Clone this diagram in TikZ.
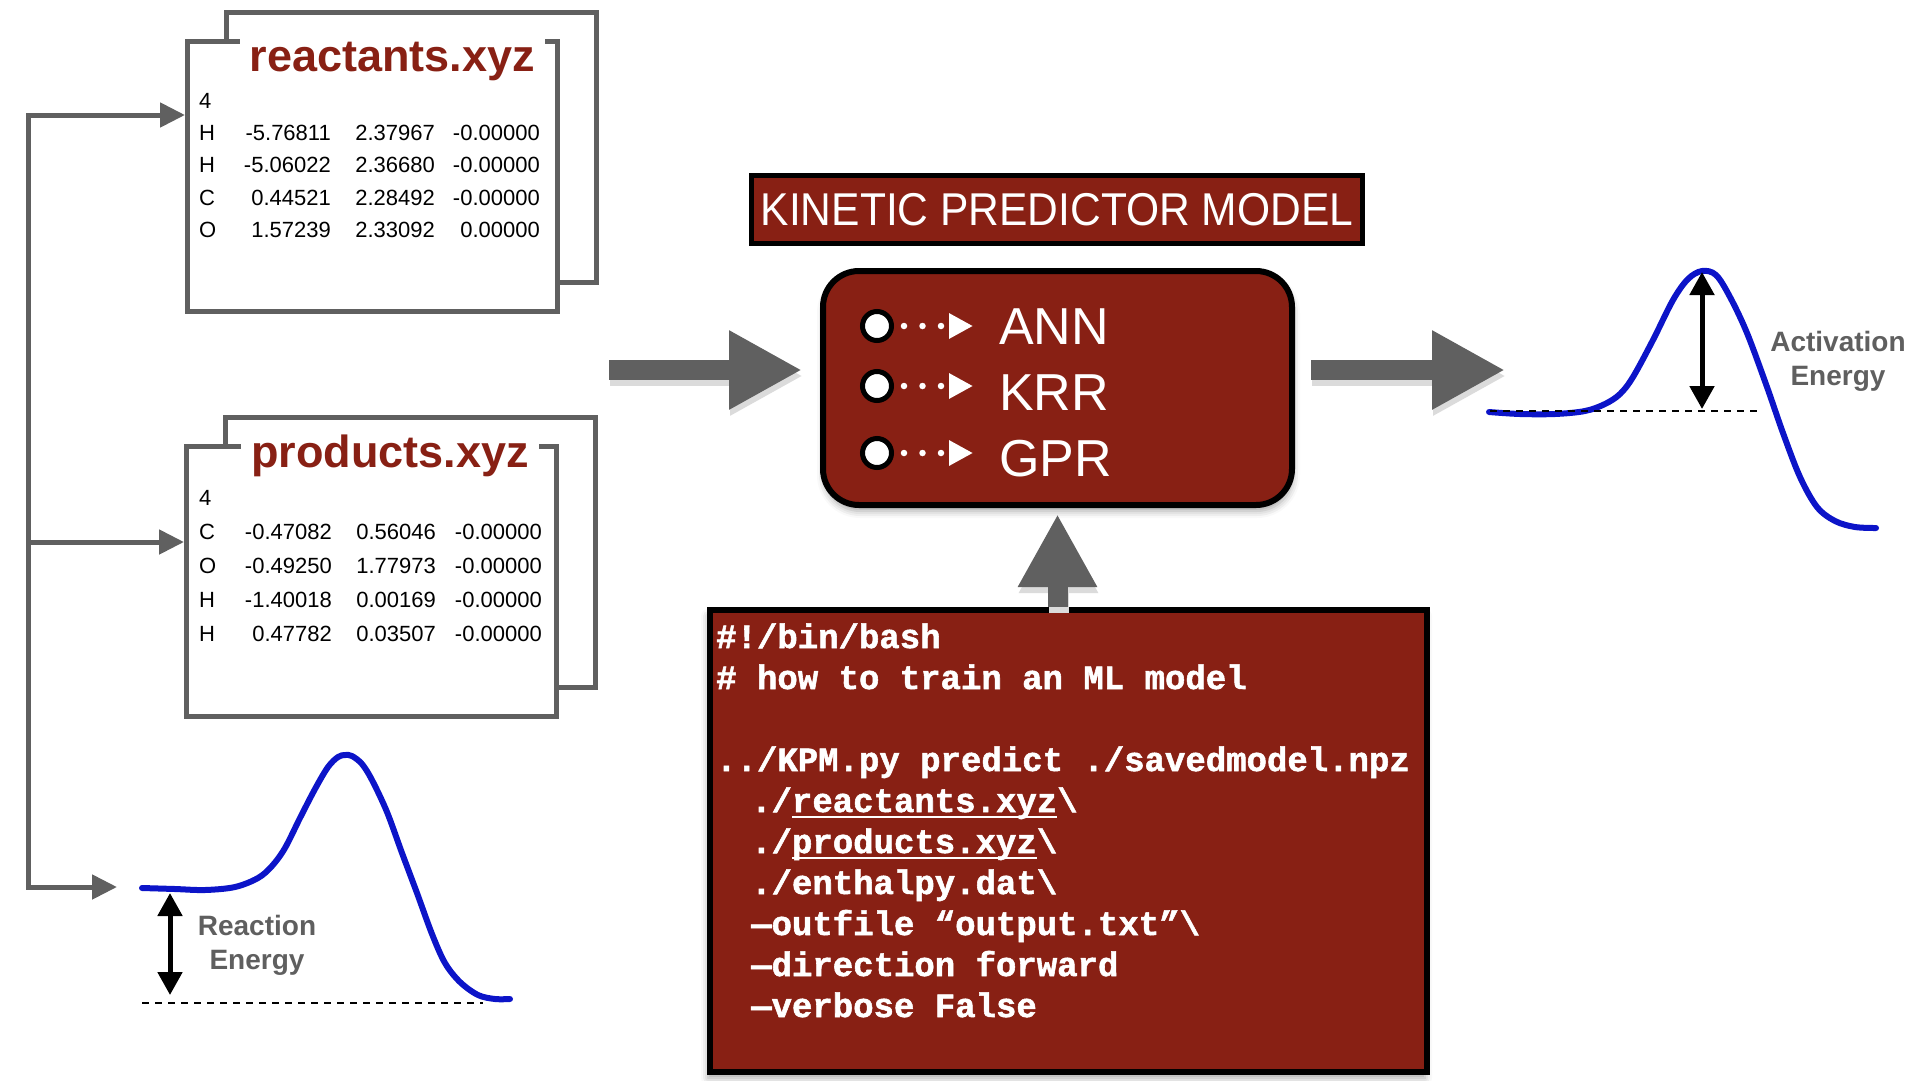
\documentclass[tikz,border=0pt]{standalone}
\usepackage{graphicx}
\usepackage{fontspec}
\setmainfont{Liberation Sans}
\newfontfamily\codefont{Liberation Mono}[BoldFeatures={FakeBold=1.6}]
\usetikzlibrary{arrows.meta,shadows.blur}
\definecolor{kred}{RGB}{136,32,20}
\definecolor{kgray}{RGB}{96,96,96}
\definecolor{kblue}{RGB}{12,20,200}
\definecolor{lgray}{RGB}{95,95,95}
\newsavebox\ulbox
\newcommand{\myul}[1]{\sbox\ulbox{#1}\rlap{\rule[-6pt]{\wd\ulbox}{2pt}}\usebox\ulbox}
\begin{document}
\begin{tikzpicture}[x=1pt,y=-1pt,line join=miter,
  filebox/.style={draw=kgray, line width=5pt, fill=white, minimum width=370pt, minimum height=270pt, inner sep=0pt},
  filetitle/.style={font=\fontsize{45}{54}\selectfont\bfseries, text=kred, fill=white, inner xsep=10pt, inner ysep=6pt, anchor=base},
  xyzl/.style={font=\fontsize{22}{26}\selectfont, anchor=base west, inner sep=0pt},
  xyzr/.style={font=\fontsize{22}{26}\selectfont, anchor=base east, inner sep=0pt},
  conn/.style={draw=kgray, line width=5pt},
  smallhead/.tip={Triangle[length=25pt,width=24pt]},
  bigarrow/.style={draw=kgray, line width=20pt, -{Triangle[length=73pt,width=74pt]}},
  bigshadow/.style={draw=black!14, line width=20pt, -{Triangle[length=73pt,width=74pt]}, transform canvas={xshift=1pt,yshift=-6pt}},
  curve/.style={draw=kblue, line width=6pt, line cap=round},
  levelline/.style={draw=black, line width=2.5pt, dash pattern=on 7pt off 6pt},
  energyarrow/.style={draw=black, line width=5pt, {Triangle[length=23pt,width=24pt]}-{Triangle[length=23pt,width=24pt]}},
  elabel/.style={font=\fontsize{28}{34}\selectfont\bfseries, text=lgray, align=center, inner sep=0pt},
  titlebox/.style={draw=black, line width=5pt, fill=kred, text=white, minimum width=611pt, minimum height=68pt, inner sep=0pt, font=\fontsize{46}{50}\selectfont},
  kpmbox/.style={draw=black, line width=6pt, fill=kred, rounded corners=36pt, minimum width=469pt, minimum height=234pt, inner sep=0pt,
    blur shadow={shadow xshift=1pt, shadow yshift=-6pt, shadow blur radius=7pt, shadow opacity=35}},
  codebox/.style={draw=black, line width=6pt, fill=kred, minimum width=717pt, minimum height=462pt, inner sep=0pt,
    blur shadow={shadow xshift=-2pt, shadow yshift=-6pt, shadow blur radius=7pt, shadow opacity=35}},
  mcircle/.style={circle, draw=black, line width=5pt, fill=white, minimum size=29pt, inner sep=0pt},
  mlabel/.style={font=\fontsize{52}{60}\selectfont, text=white, anchor=base west, inner sep=0pt},
  dotarrow/.style={draw=white, line width=6.5pt, line cap=round, dash pattern=on 0pt off 18.5pt, -{Triangle[length=24pt,width=24pt]}},
  codeline/.style={font=\fontsize{34}{41}\selectfont\codefont\bfseries, text=white, anchor=base west, inner sep=0pt}
]
\useasboundingbox (0,0) rectangle (1920,1080);

% ---------- reactants file ----------
\node[filebox] (reacback) at (411.5,147) {};
\node[filebox] (reac) at (372.5,176) {};
\node[filetitle] (reactitle) at (392.5,71) {reactants.xyz};
\node[xyzl] (r0) at (199,108) {4};
\node[xyzl] (r1a) at (199,140) {H};
\node[xyzr] (r1b) at (331,140) {-5.76811};
\node[xyzr] (r1c) at (435,140) {2.37967};
\node[xyzr] (r1d) at (540,140) {-0.00000};
\node[xyzl] (r2a) at (199,172) {H};
\node[xyzr] (r2b) at (331,172) {-5.06022};
\node[xyzr] (r2c) at (435,172) {2.36680};
\node[xyzr] (r2d) at (540,172) {-0.00000};
\node[xyzl] (r3a) at (199,205) {C};
\node[xyzr] (r3b) at (331,205) {0.44521};
\node[xyzr] (r3c) at (435,205) {2.28492};
\node[xyzr] (r3d) at (540,205) {-0.00000};
\node[xyzl] (r4a) at (199,237) {O};
\node[xyzr] (r4b) at (331,237) {1.57239};
\node[xyzr] (r4c) at (435,237) {2.33092};
\node[xyzr] (r4d) at (540,237) {0.00000};

% ---------- products file ----------
\node[filebox] (prodback) at (410,552) {};
\node[filebox] (prod) at (371.5,581) {};
\node[filetitle] (prodtitle) at (390,467) {products.xyz};
\node[xyzl] (p0) at (199,505) {4};
\node[xyzl] (p1a) at (199,539) {C};
\node[xyzr] (p1b) at (332,539) {-0.47082};
\node[xyzr] (p1c) at (436,539) {0.56046};
\node[xyzr] (p1d) at (542,539) {-0.00000};
\node[xyzl] (p2a) at (199,573) {O};
\node[xyzr] (p2b) at (332,573) {-0.49250};
\node[xyzr] (p2c) at (436,573) {1.77973};
\node[xyzr] (p2d) at (542,573) {-0.00000};
\node[xyzl] (p3a) at (199,607) {H};
\node[xyzr] (p3b) at (332,607) {-1.40018};
\node[xyzr] (p3c) at (436,607) {0.00169};
\node[xyzr] (p3d) at (542,607) {-0.00000};
\node[xyzl] (p4a) at (199,641) {H};
\node[xyzr] (p4b) at (332,641) {0.47782};
\node[xyzr] (p4c) at (436,641) {0.03507};
\node[xyzr] (p4d) at (542,641) {-0.00000};

% ---------- left connectors ----------
\coordinate (sptop) at (28,115);
\coordinate (spmid) at (28,542);
\coordinate (spbot) at (28,887);
\coordinate (ebin) at (117,887);
\draw[conn, smallhead-smallhead] (reac.west |- sptop) -- (sptop) -- (spbot) -- (ebin);
\draw[conn, -smallhead] (spmid) -- (prod.west |- spmid);

% ---------- reaction energy diagram ----------
\draw[curve] plot[smooth, tension=0.55] coordinates {(142,888) (175,889) (205,890) (235,887) (258,878) (272,866) (285,848) (300,818) (315,789) (328,767) (338,757) (345,755) (352,756) (362,764) (372,780) (387,812) (402,853) (417,893) (432,934) (445,963) (460,982) (478,995) (495,999) (510,999)};
\draw[levelline] (142,1003) -- (483,1003);
\draw[energyarrow] (170,893) -- (170,995);
\node[elabel] (rxnlabel) at (257,945) {Reaction\\Energy};

% ---------- KPM ----------
\node[titlebox] (kpmtitle) at (1057,209.5) {\scalebox{0.925}[1]{KINETIC PREDICTOR MODEL}};
\node[kpmbox] (kpm) at (1057.5,388) {};
\node[mcircle] (c1) at (877,326) {};
\node[mcircle] (c2) at (877,386) {};
\node[mcircle] (c3) at (877,453) {};
\node[mlabel] (ann) at (999,344) {ANN};
\node[mlabel] (krr) at (999,410) {KRR};
\node[mlabel] (gpr) at (999,476) {GPR};
\draw[dotarrow] ([xshift=27pt]c1.center) -- ([xshift=96pt]c1.center);
\draw[dotarrow] ([xshift=27pt]c2.center) -- ([xshift=96pt]c2.center);
\draw[dotarrow] ([xshift=27pt]c3.center) -- ([xshift=96pt]c3.center);

% ---------- code box ----------
\node[codebox] (code) at (1068.5,841) {};
\node[codeline] (l1) at (716,648) {\#!/bin/bash};
\node[codeline] (l2) at (716,689) {\# how to train an ML model};
\node[codeline] (l4) at (716,771) {../KPM.py predict ./savedmodel.npz};
\node[codeline] (l5) at (751,812) {./\myul{reactants.xyz}\textbackslash};
\node[codeline] (l6) at (751,853) {./\myul{products.xyz}\textbackslash};
\node[codeline] (l7) at (751,894) {./enthalpy.dat\textbackslash};
\node[codeline] (l8) at (751,935) {—outfile “output.txt”\textbackslash};
\node[codeline] (l9) at (751,976) {—direction forward};
\node[codeline] (l10) at (751,1017) {—verbose False};

% ---------- big arrows ----------
\coordinate (inA) at (609,370);
\path (kpm.west |- inA) ++(-18,0) coordinate (inB);
\path (kpm.east |- inA) ++(16,0) coordinate (outA);
\coordinate (outB) at (1505,370);
\path (kpm.south) ++(0,6) coordinate (upB);
\coordinate (upA) at (kpm.south |- code.north);
\draw[bigshadow] (inA) -- (inB);
\draw[bigshadow] (outA) -- (outB);
\draw[bigshadow] (upA) -- (upB);
\draw[bigarrow] (inA) -- (inB);
\draw[bigarrow] (outA) -- (outB);
\draw[bigarrow] (upA) -- (upB);

% ---------- activation energy diagram ----------
\draw[curve] plot[smooth, tension=0.55] coordinates {(1489,412) (1520,414) (1555,414) (1585,411) (1605,404) (1620,394) (1633,377) (1653,340) (1673,300) (1688,279) (1702,271) (1716,275) (1730,297) (1747,333) (1767,387) (1783,433) (1800,477) (1817,507) (1835,521) (1855,527) (1876,528)};
\draw[levelline] (1490,411) -- (1762,411);
\draw[energyarrow] (1702,272) -- (1702,409);
\node[elabel] (actlabel) at (1838,361) {Activation\\Energy};
\end{tikzpicture}
\end{document}
